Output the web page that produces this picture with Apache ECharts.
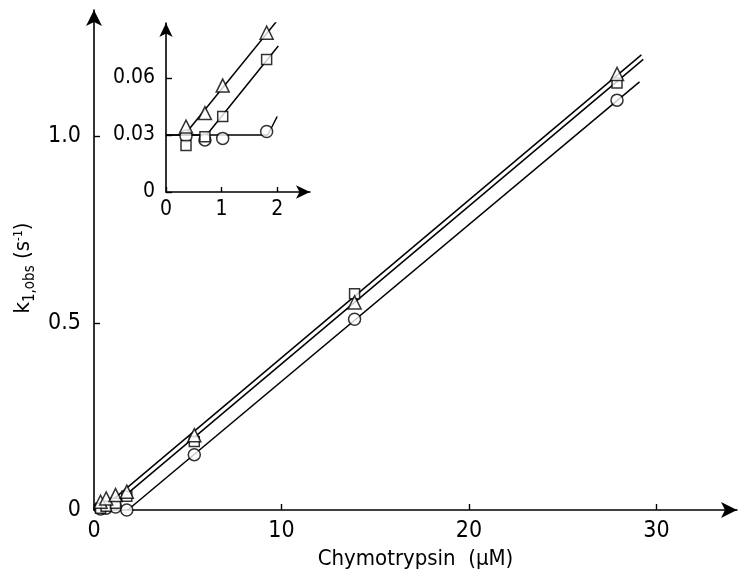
<!DOCTYPE html>
<html><head><meta charset="utf-8">
<script src="https://cdn.jsdelivr.net/npm/echarts@6/dist/echarts.min.js"></script>
<style>html,body{margin:0;padding:0;background:#fff}#c{width:739px;height:581px}</style>
</head><body><div id="c"></div>
<script>
// ---- data ----
// main chart: chymotrypsin concentration (µM)
const conc = [0.35, 0.65, 1.15, 1.75, 5.35, 13.9, 27.9];
const triangleK = [0.022, 0.031, 0.040, 0.049, 0.200, 0.555, 1.166];
const squareK   = [0.005, 0.010, 0.018, 0.037, 0.183, 0.578, 1.142];
const circleK   = [0.003, 0.005, 0.008, 0.000, 0.148, 0.510, 1.096];
// fitted lines, main chart
const triangleFitX = [0.9, 29.2];
const triangleFitY = [0.023, 1.217];
const squareFitX = [1.1, 29.3];
const squareFitY = [0.015, 1.205];
const circleFitX = [1.8, 29.1];
const circleFitY = [0.0, 1.145];
// inset: low concentrations
const insetConc = [0.36, 0.70, 1.02, 1.81];
const insetTriangle = [0.0344, 0.0415, 0.0560, 0.0838];
const insetSquare   = [0.0244, 0.0291, 0.0397, 0.0697];
const insetCircle   = [0.0295, 0.0274, 0.0282, 0.0318];
const insetTriFitX = [0.36, 2.02];
const insetTriFitY = [0.031, 0.0909];
const insetSqFitX = [0, 0.73, 2.02];
const insetSqFitY = [0.03, 0.03, 0.0768];
const insetCirFitX = [0, 1.83, 2.0];
const insetCirFitY = [0.03, 0.03, 0.0397];
// tick labels
const mainXTicks = [0, 10, 20, 30];
const mainYTicks = [0, 0.5, 1.0];
const insetXTicks = [0, 1, 2];
const insetYTicks = [0, 0.03, 0.06];

const FONT = '"Liberation Sans Narrow","DejaVu Sans Condensed",sans-serif';
const zip = (a, b) => a.map((v, i) => [v, b[i]]);

function axisCommon(arrow, ticks, fmt, fs, tickLen, margin) {
  return {
    axisLine: {show: true, onZero: false, symbol: ['none', 'arrow'], symbolSize: arrow,
      lineStyle: {color: '#000', width: 1.6}},
    axisTick: {show: true, inside: true, length: tickLen, customValues: ticks,
      lineStyle: {color: '#000', width: 1.4}},
    axisLabel: {show: true, customValues: ticks, formatter: fmt, color: '#000',
      fontFamily: FONT, fontSize: fs, margin: margin},
    splitLine: {show: false}
  };
}

const chart = echarts.init(document.getElementById('c'), null, {renderer: 'canvas'});
const mk = (sym, size) => ({symbol: sym, symbolSize: size,
  itemStyle: {color: '#fff', borderColor: '#000', borderWidth: 1.5}});
const lineS = (x, y, xi) => ({type: 'line', data: zip(x, y), xAxisIndex: xi, yAxisIndex: xi,
  showSymbol: false, symbol: 'none', lineStyle: {color: '#000', width: 1.5}, z: 2, animation: false});
const scat = (x, y, xi, sym, size) => Object.assign({type: 'scatter', data: zip(x, y),
  xAxisIndex: xi, yAxisIndex: xi, z: 3, animation: false}, mk(sym, size));

chart.setOption({
  animation: false,
  backgroundColor: '#fff',
  grid: [
    {left: 94, top: 10, right: 2, bottom: 71},
    {left: 166, top: 23, width: 144, height: 169}
  ],
  xAxis: [
    Object.assign({type: 'value', gridIndex: 0, min: 0, max: 34.3,
      name: 'Chymotrypsin  (μM)', nameLocation: 'middle', nameGap: 35,
      nameTextStyle: {fontFamily: '"DejaVu Sans Condensed",sans-serif', fontSize: 22, color: '#000'}},
      axisCommon([12, 16], mainXTicks, v => String(v), 23, 6, 10)),
    Object.assign({type: 'value', gridIndex: 1, min: 0, max: 2.59},
      axisCommon([10, 14], insetXTicks, v => String(v), 21, 5, 7))
  ],
  yAxis: [
    Object.assign({type: 'value', gridIndex: 0, min: 0, max: 1.337,
      name: '{k|k}{sub|1,obs}{n| (s}{sup|-1}{n|)}', nameLocation: 'middle', nameGap: 46, nameRotate: 90,
      nameTextStyle: {fontFamily: FONT, color: '#000', padding: [0, 16, 0, 0], rich: {
        k: {fontFamily: FONT, fontSize: 22, color: '#000'},
        n: {fontFamily: FONT, fontSize: 22, color: '#000'},
        sub: {fontFamily: FONT, fontSize: 15, color: '#000', padding: [12, 0, 0, 0]},
        sup: {fontFamily: FONT, fontSize: 12, color: '#000', padding: [0, 0, 10, 0]}
      }}},
      axisCommon([12, 16], mainYTicks, v => v === 0 ? '0' : v.toFixed(1), 23, 6, 13)),
    Object.assign({type: 'value', gridIndex: 1, min: 0, max: 0.0889},
      axisCommon([10, 14], insetYTicks, v => v === 0 ? '0' : v.toFixed(2), 21, 6, 11))
  ],
  series: [
    lineS(triangleFitX, triangleFitY, 0),
    lineS(squareFitX, squareFitY, 0),
    lineS(circleFitX, circleFitY, 0),
    scat(conc, circleK, 0, 'circle', 12),
    scat(conc, squareK, 0, 'rect', 10),
    scat(conc, triangleK, 0, 'triangle', 13),
    lineS(insetTriFitX, insetTriFitY, 1),
    lineS(insetSqFitX, insetSqFitY, 1),
    lineS(insetCirFitX, insetCirFitY, 1),
    scat(insetConc, insetCircle, 1, 'circle', 12),
    scat(insetConc, insetSquare, 1, 'rect', 10),
    scat(insetConc, insetTriangle, 1, 'triangle', 13)
  ]
});
</script></body></html>
